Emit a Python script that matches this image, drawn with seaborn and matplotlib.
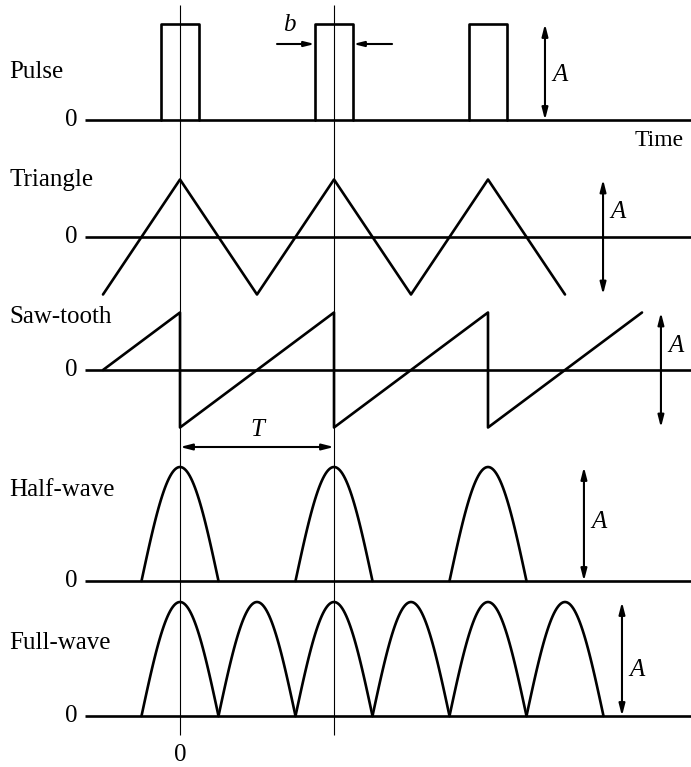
import numpy as np
import pandas as pd
import matplotlib.pyplot as plt
import seaborn as sns

# === Waveform data: time in periods T, amplitude in units of A ===
row_labels = ["Pulse", "Triangle", "Saw-tooth", "Half-wave", "Full-wave"]

pulse_centers = [0, 1, 2]
pulse_width = 0.25

triangle_t = [-0.5, 0, 0.5, 1, 1.5, 2, 2.5]
triangle_v = [-1, 1, -1, 1, -1, 1, -1]

saw_t = [-0.5, 0, 0, 1, 1, 2, 2, 3]
saw_v = [0, 1, -1, 1, -1, 1, -1, 1]

half_centers = [0, 1, 2]
full_centers = [0, 0.5, 1, 1.5, 2, 2.5]
lobe_width = 0.5

# === Layout (pixels from top of the figure) ===
zero_px = [120, 237, 370, 581, 716]
unit_px = [96, 57.5, 57.5, 114, 114]
label_px = [72, 180, 317, 490, 643]
amp_arrow_t = [2.37, 2.747, 3.123, 2.623, 2.87]
amp_lo = [0, -1, -1, 0, 0]
amp_text_px = [75, 212, 346, 522, 670]


def px(row, v):
    return zero_px[row] - unit_px[row] * np.asarray(v, dtype=float)


# === Build strokes ===
strokes = []


def add(t, y, sid):
    strokes.append(pd.DataFrame({"t": t, "y": y, "stroke": sid}))


sid = 0
for c in pulse_centers:
    h = pulse_width / 2
    add([c - h, c - h, c + h, c + h], px(0, [0, 1, 1, 0]), sid)
    sid += 1

add(triangle_t, px(1, triangle_v), sid); sid += 1
add(saw_t, px(2, saw_v), sid); sid += 1

for row, centers in [(3, half_centers), (4, full_centers)]:
    for c in centers:
        tt = np.linspace(c - lobe_width / 2, c + lobe_width / 2, 60)
        add(tt, px(row, np.cos(2 * np.pi * (tt - c))), sid)
        sid += 1

df = pd.concat(strokes, ignore_index=True)

# === Plot ===
sns.set_style("white")
plt.rcParams["font.family"] = ["Liberation Serif", "DejaVu Serif"]
plt.rcParams["text.color"] = "black"

fig = plt.figure(figsize=(6.91, 7.67), dpi=100)
ax = fig.add_axes([0, 0, 1, 1])
t_left, t_right = -180 / 154, (691 - 180) / 154
ax.set_xlim(t_left, t_right)
ax.set_ylim(767, 0)
ax.set_axis_off()

# zero lines
ax.hlines(zero_px, -0.617, t_right, color="black", lw=1.9)
# reference lines at 0 and T
ax.vlines([0, 1], 5, 735, color="black", lw=0.8)

sns.lineplot(data=df, x="t", y="y", units="stroke", estimator=None,
             sort=False, color="black", lw=1.9, ax=ax, legend=False)

# labels
for i, lab in enumerate(row_labels):
    ax.text(t_left + 9 / 154, label_px[i], lab, fontsize=18,
            ha="left", va="center")
    ax.text((78 - 180) / 154, zero_px[i], "0", fontsize=18,
            ha="right", va="center")

ax.text((684 - 180) / 154, 140, "Time", fontsize=17, ha="right", va="center")
ax.text(0, 755, "0", fontsize=18, ha="center", va="center")

# amplitude arrows
arrow = dict(arrowstyle="<|-|>,head_length=0.7,head_width=0.18",
             color="black", lw=1.5, shrinkA=0, shrinkB=0)
for i in range(5):
    y_top = px(i, 1)
    y_bot = px(i, amp_lo[i])
    ax.annotate("", xy=(amp_arrow_t[i], y_top), xytext=(amp_arrow_t[i], y_bot),
                arrowprops=arrow)
    ax.text(amp_arrow_t[i] + 7 / 154, amp_text_px[i], "A",
            fontsize=18, style="italic", ha="left", va="center")

# period T
ax.annotate("", xy=(0, 447), xytext=(1, 447), arrowprops=arrow)
ax.text(0.5, 430, "T", fontsize=18, style="italic", ha="center", va="center")

# pulse width b
one = dict(arrowstyle="-|>,head_length=0.6,head_width=0.15",
           color="black", lw=1.5, shrinkA=0, shrinkB=0)
ax.annotate("", xy=(1 - pulse_width / 2, 44), xytext=(0.63, 44), arrowprops=one)
ax.annotate("", xy=(1 + pulse_width / 2, 44), xytext=(1.377, 44), arrowprops=one)
ax.text(0.71, 25, "b", fontsize=18, style="italic", ha="center", va="center")

fig.savefig("out.png", dpi=100)
